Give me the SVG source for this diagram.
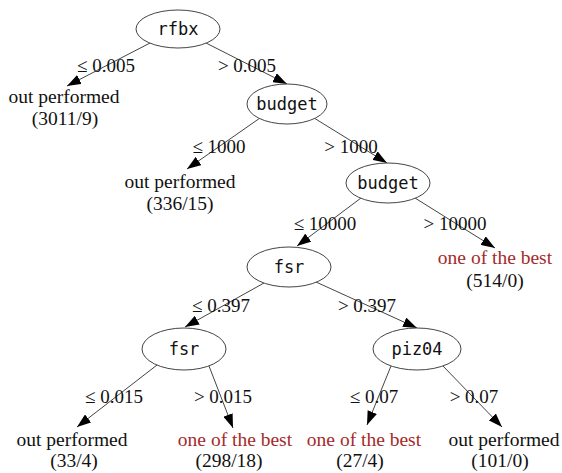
<svg xmlns="http://www.w3.org/2000/svg" width="562" height="473" viewBox="0 0 562 473">
<style>
.node ellipse{fill:#fff;stroke:#444;stroke-width:1}
.node text{font-family:"DejaVu Sans Mono",monospace;font-size:17px;text-anchor:middle;fill:#111}
.leaf text{font-family:"Liberation Serif",serif;font-size:19.5px;text-anchor:middle;fill:#111}
.leaf.best text.cls{fill:#a52a2a}
.edges line{stroke:#444;stroke-width:1;marker-end:url(#arr)}
.lbl text{font-family:"Liberation Serif",serif;font-size:19px;text-anchor:middle;fill:#111}
</style>
<defs>
<marker id="arr" viewBox="0 0 14 10" refX="14" refY="5" markerWidth="14" markerHeight="10" markerUnits="userSpaceOnUse" orient="auto">
<path d="M0,0 L14,5 L0,10 z" fill="#000"/>
</marker>
</defs>
<rect width="562" height="473" fill="#fff"/>
<g id="edges" class="edges">
<line x1="150" y1="43" x2="67" y2="86"/>
<line x1="206" y1="43" x2="287" y2="84"/>
<line x1="260" y1="118" x2="187" y2="169"/>
<line x1="314" y1="118" x2="387" y2="163"/>
<line x1="361" y1="198" x2="297" y2="246"/>
<line x1="415" y1="198" x2="495" y2="248"/>
<line x1="264" y1="283" x2="185" y2="327"/>
<line x1="316" y1="282" x2="417" y2="328"/>
<line x1="157" y1="365" x2="77" y2="427"/>
<line x1="209" y1="366" x2="233" y2="428"/>
<line x1="391" y1="366" x2="367" y2="425"/>
<line x1="443" y1="366" x2="502" y2="427"/>
</g>
<g id="edge-labels" class="lbl">
<text x="106" y="72">≤ 0.005</text>
<text x="247" y="72">&gt; 0.005</text>
<text x="219" y="153">≤ 1000</text>
<text x="351" y="153">&gt; 1000</text>
<text x="325" y="230">≤ 10000</text>
<text x="455" y="230">&gt; 10000</text>
<text x="221" y="312">≤ 0.397</text>
<text x="367" y="312">&gt; 0.397</text>
<text x="114" y="403">≤ 0.015</text>
<text x="223" y="403">&gt; 0.015</text>
<text x="374" y="403">≤ 0.07</text>
<text x="474" y="403">&gt; 0.07</text>
</g>
<g id="n-rfbx" class="node"><ellipse cx="178" cy="29" rx="42" ry="19"/><text x="178" y="35">rfbx</text></g>
<g id="n-budget1" class="node"><ellipse cx="287" cy="104" rx="40" ry="20"/><text x="287" y="110">budget</text></g>
<g id="n-budget2" class="node"><ellipse cx="388" cy="183" rx="42" ry="20"/><text x="388" y="189">budget</text></g>
<g id="n-fsr1" class="node"><ellipse cx="289" cy="267" rx="42" ry="20"/><text x="289" y="273">fsr</text></g>
<g id="n-fsr2" class="node"><ellipse cx="184" cy="349" rx="42" ry="21"/><text x="184" y="355">fsr</text></g>
<g id="n-piz04" class="node"><ellipse cx="417" cy="349" rx="44" ry="21"/><text x="417" y="355">piz04</text></g>
<g id="leaf1" class="leaf"><text x="64" y="103">out performed</text><text x="65" y="125">(3011/9)</text></g>
<g id="leaf2" class="leaf"><text x="180" y="188">out performed</text><text x="180" y="210">(336/15)</text></g>
<g id="leaf3" class="leaf best"><text class="cls" x="495" y="264">one of the best</text><text x="495" y="287">(514/0)</text></g>
<g id="leaf4" class="leaf"><text x="72" y="446">out performed</text><text x="74" y="467">(33/4)</text></g>
<g id="leaf5" class="leaf best"><text class="cls" x="235" y="446">one of the best</text><text x="229" y="467">(298/18)</text></g>
<g id="leaf6" class="leaf best"><text class="cls" x="364" y="446">one of the best</text><text x="360" y="467">(27/4)</text></g>
<g id="leaf7" class="leaf"><text x="504" y="446">out performed</text><text x="500" y="467">(101/0)</text></g>
</svg>
